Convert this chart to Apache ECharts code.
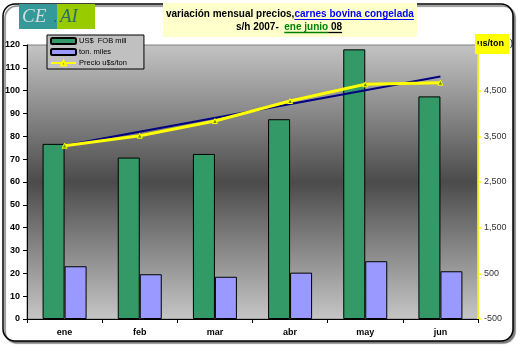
<!DOCTYPE html>
<html>
<head>
<meta charset="utf-8">
<script src="https://cdn.jsdelivr.net/npm/echarts@6/dist/echarts.min.js"></script>
<style>
html,body{margin:0;padding:0;background:#fff;}
#chart{width:520px;height:348px;}
</style>
</head>
<body>
<div id="chart"></div>
<script>
// ---- data ----
var categories = ['ene', 'feb', 'mar', 'abr', 'may', 'jun'];
var fobMill = [76.7, 70.7, 72.3, 87.5, 118.1, 97.5];      // US$ FOB mill
var tonMiles = [23.1, 19.6, 18.5, 20.3, 25.3, 20.9];       // ton. miles
var precio = [3295, 3514, 3835, 4273, 4639, 4674];         // Precio u$s/ton
var trendEnds = [3300, null, null, null, null, 4810];      // tendencia
var leftTicks = {min: 0, max: 120, interval: 10};
var rightTicks = {min: -500, max: 5500, interval: 1000};
var seriesNames = ['US$  FOB mill', 'ton. miles', 'Precio u$s/ton'];

var chart = echarts.init(document.getElementById('chart'), null, {renderer: 'canvas'});

var mctx = document.createElement('canvas').getContext('2d');
function tw(t, font) { mctx.font = font; return mctx.measureText(t).width; }

var FAM = '"Liberation Sans", Arial, sans-serif';
var l1a = 'variación mensual precios,', l1b = 'carnes bovina congelada';
var base1 = 'bold 10px ' + FAM;
var w1 = tw(l1a + l1b, base1);
var fs1 = 10 * 248 / w1;
var f1 = 'bold ' + fs1.toFixed(2) + 'px ' + FAM;
var x1 = 166, wa = tw(l1a, f1), wb = tw(l1b, f1);

var l2a = 's/h 2007-  ', l2b = 'ene junio', l2c = ' 08';
var f2 = f1;
var w2a = tw(l2a, f2), w2b = tw(l2b, f2), w2c = tw(l2c, f2);
var x2 = 289 - (w2a + w2b + w2c) / 2;

var GRID = {left: 27, right: 42, top: 45, bottom: 29};
var W = 520, H = 348;

var graphics = [
  {type: 'rect', z: -10, silent: true, shape: {x: 3, y: 4, width: 510, height: 337, r: 12},
   style: {fill: '#fff', stroke: '#000', lineWidth: 1.5, shadowColor: '#777', shadowOffsetX: 2, shadowOffsetY: 2, shadowBlur: 1}},
  {type: 'rect', z: -5, silent: true,
   shape: {x: GRID.left, y: GRID.top, width: W - GRID.left - GRID.right, height: H - GRID.top - GRID.bottom},
   style: {
     fill: new echarts.graphic.LinearGradient(0, 0, 0, 1, [
       {offset: 0, color: '#c4c4c4'},
       {offset: 0.5, color: '#4b4b4b'},
       {offset: 1, color: '#c6c6c6'}
     ]),
     stroke: '#808080', lineWidth: 1
   }},
  {type: 'rect', shape: {x: 19, y: 4, width: 38, height: 25}, style: {fill: '#339999'}},
  {type: 'rect', shape: {x: 57, y: 4, width: 38, height: 25}, style: {fill: '#99cc00'}},
  {type: 'text', x: 22, y: 17, style: {text: 'CE', font: 'italic 19px "Liberation Serif", serif', fill: '#d6dede', verticalAlign: 'middle'}},
  {type: 'text', x: 54, y: 19, style: {text: ',', font: 'italic 9px "Liberation Serif", serif', fill: '#333', verticalAlign: 'middle'}},
  {type: 'text', x: 60, y: 17, style: {text: 'AI', font: 'italic 19px "Liberation Serif", serif', fill: '#2d6b66', verticalAlign: 'middle'}},
  {type: 'rect', shape: {x: 163, y: 3, width: 254, height: 34}, style: {fill: '#ffffcc'}},
  {type: 'text', x: x1, y: 14, style: {text: l1a, font: f1, fill: '#000', verticalAlign: 'middle'}},
  {type: 'text', x: x1 + wa, y: 14, style: {text: l1b, font: f1, fill: '#0000ff', verticalAlign: 'middle'}},
  {type: 'line', shape: {x1: x1 + wa, y1: 19.5, x2: x1 + wa + wb, y2: 19.5}, style: {stroke: '#0000ff', lineWidth: 1}},
  {type: 'text', x: x2, y: 27, style: {text: l2a, font: f2, fill: '#000', verticalAlign: 'middle'}},
  {type: 'text', x: x2 + w2a, y: 27, style: {text: l2b, font: f2, fill: '#008000', verticalAlign: 'middle'}},
  {type: 'text', x: x2 + w2a + w2b, y: 27, style: {text: l2c, font: f2, fill: '#000', verticalAlign: 'middle'}},
  {type: 'line', shape: {x1: x2 + w2a, y1: 32.5, x2: x2 + w2a + w2b, y2: 32.5}, style: {stroke: '#008000', lineWidth: 1.3}},
  {type: 'line', shape: {x1: x2 + w2a + w2b, y1: 32.5, x2: x2 + w2a + w2b + w2c, y2: 32.5}, style: {stroke: '#000', lineWidth: 1.3}},
  {type: 'rect', shape: {x: 475, y: 34, width: 34, height: 20}, style: {fill: '#ffff00'}},
  {type: 'text', x: 477, y: 44, style: {text: 'us/ton', font: 'bold 9px ' + FAM, fill: '#000', verticalAlign: 'middle'}},
  {type: 'text', x: 510, y: 44, style: {text: ')', font: '9px ' + FAM, fill: '#000', verticalAlign: 'middle'}}
];

var option = {
  animation: false,
  backgroundColor: '#fff',
  graphic: graphics,
  grid: {left: GRID.left, right: GRID.right, top: GRID.top, bottom: GRID.bottom, show: false},
  legend: {
    data: seriesNames,
    orient: 'vertical',
    left: 47, top: 35,
    padding: [2, 17, 2, 3],
    itemWidth: 25, itemHeight: 6, itemGap: 3,
    backgroundColor: '#c0c0c0',
    borderColor: '#000', borderWidth: 1,
    borderRadius: 0,
    textStyle: {fontSize: 7.5, color: '#000', fontFamily: FAM, padding: [0, 0, 0, -2]}
  },
  xAxis: {
    type: 'category',
    data: categories,
    axisLine: {lineStyle: {color: '#000', width: 1}},
    axisTick: {show: true, length: 4, lineStyle: {color: '#000'}},
    axisLabel: {fontSize: 9, fontWeight: 'bold', color: '#000', margin: 9, fontFamily: FAM},
    splitLine: {show: false},
    splitArea: {show: false}
  },
  yAxis: [
    {
      type: 'value',
      min: leftTicks.min, max: leftTicks.max, interval: leftTicks.interval,
      axisLine: {show: true, lineStyle: {color: '#000', width: 1}},
      axisTick: {show: true, length: 4, lineStyle: {color: '#000'}},
      axisLabel: {fontSize: 9, fontWeight: 'bold', color: '#000', margin: 7, fontFamily: FAM},
      splitLine: {show: false}
    },
    {
      type: 'value',
      position: 'right',
      min: rightTicks.min, max: rightTicks.max, interval: rightTicks.interval,
      axisLine: {show: true, lineStyle: {color: '#ffff00', width: 1.5}},
      axisTick: {show: true, length: 3, lineStyle: {color: '#ffff00', width: 1.5}},
      axisLabel: {
        fontSize: 9, color: '#333', margin: 6, fontFamily: FAM,
        formatter: function (v) { return v >= rightTicks.max ? '' : echarts.format.addCommas(v); }
      },
      splitLine: {show: false}
    }
  ],
  series: [
    {
      name: seriesNames[0], type: 'bar', yAxisIndex: 0, data: fobMill,
      barWidth: 22, barGap: '0%',
      itemStyle: {color: '#339966', borderColor: '#000', borderWidth: 1}
    },
    {
      name: seriesNames[1], type: 'bar', yAxisIndex: 0, data: tonMiles,
      barWidth: 22, barGap: '0%',
      itemStyle: {color: '#9999ff', borderColor: '#000', borderWidth: 1}
    },
    {
      name: 'tendencia', type: 'line', yAxisIndex: 1, data: trendEnds,
      connectNulls: true, showSymbol: false, symbol: 'none',
      lineStyle: {color: '#000080', width: 2}, z: 3
    },
    {
      name: seriesNames[2], type: 'line', yAxisIndex: 1, data: precio,
      symbol: 'triangle', symbolSize: 5,
      itemStyle: {color: '#669900', borderColor: '#ffff00', borderWidth: 1},
      lineStyle: {color: '#ffff00', width: 3}, z: 4
    }
  ]
};
chart.setOption(option);
</script>
</body>
</html>
